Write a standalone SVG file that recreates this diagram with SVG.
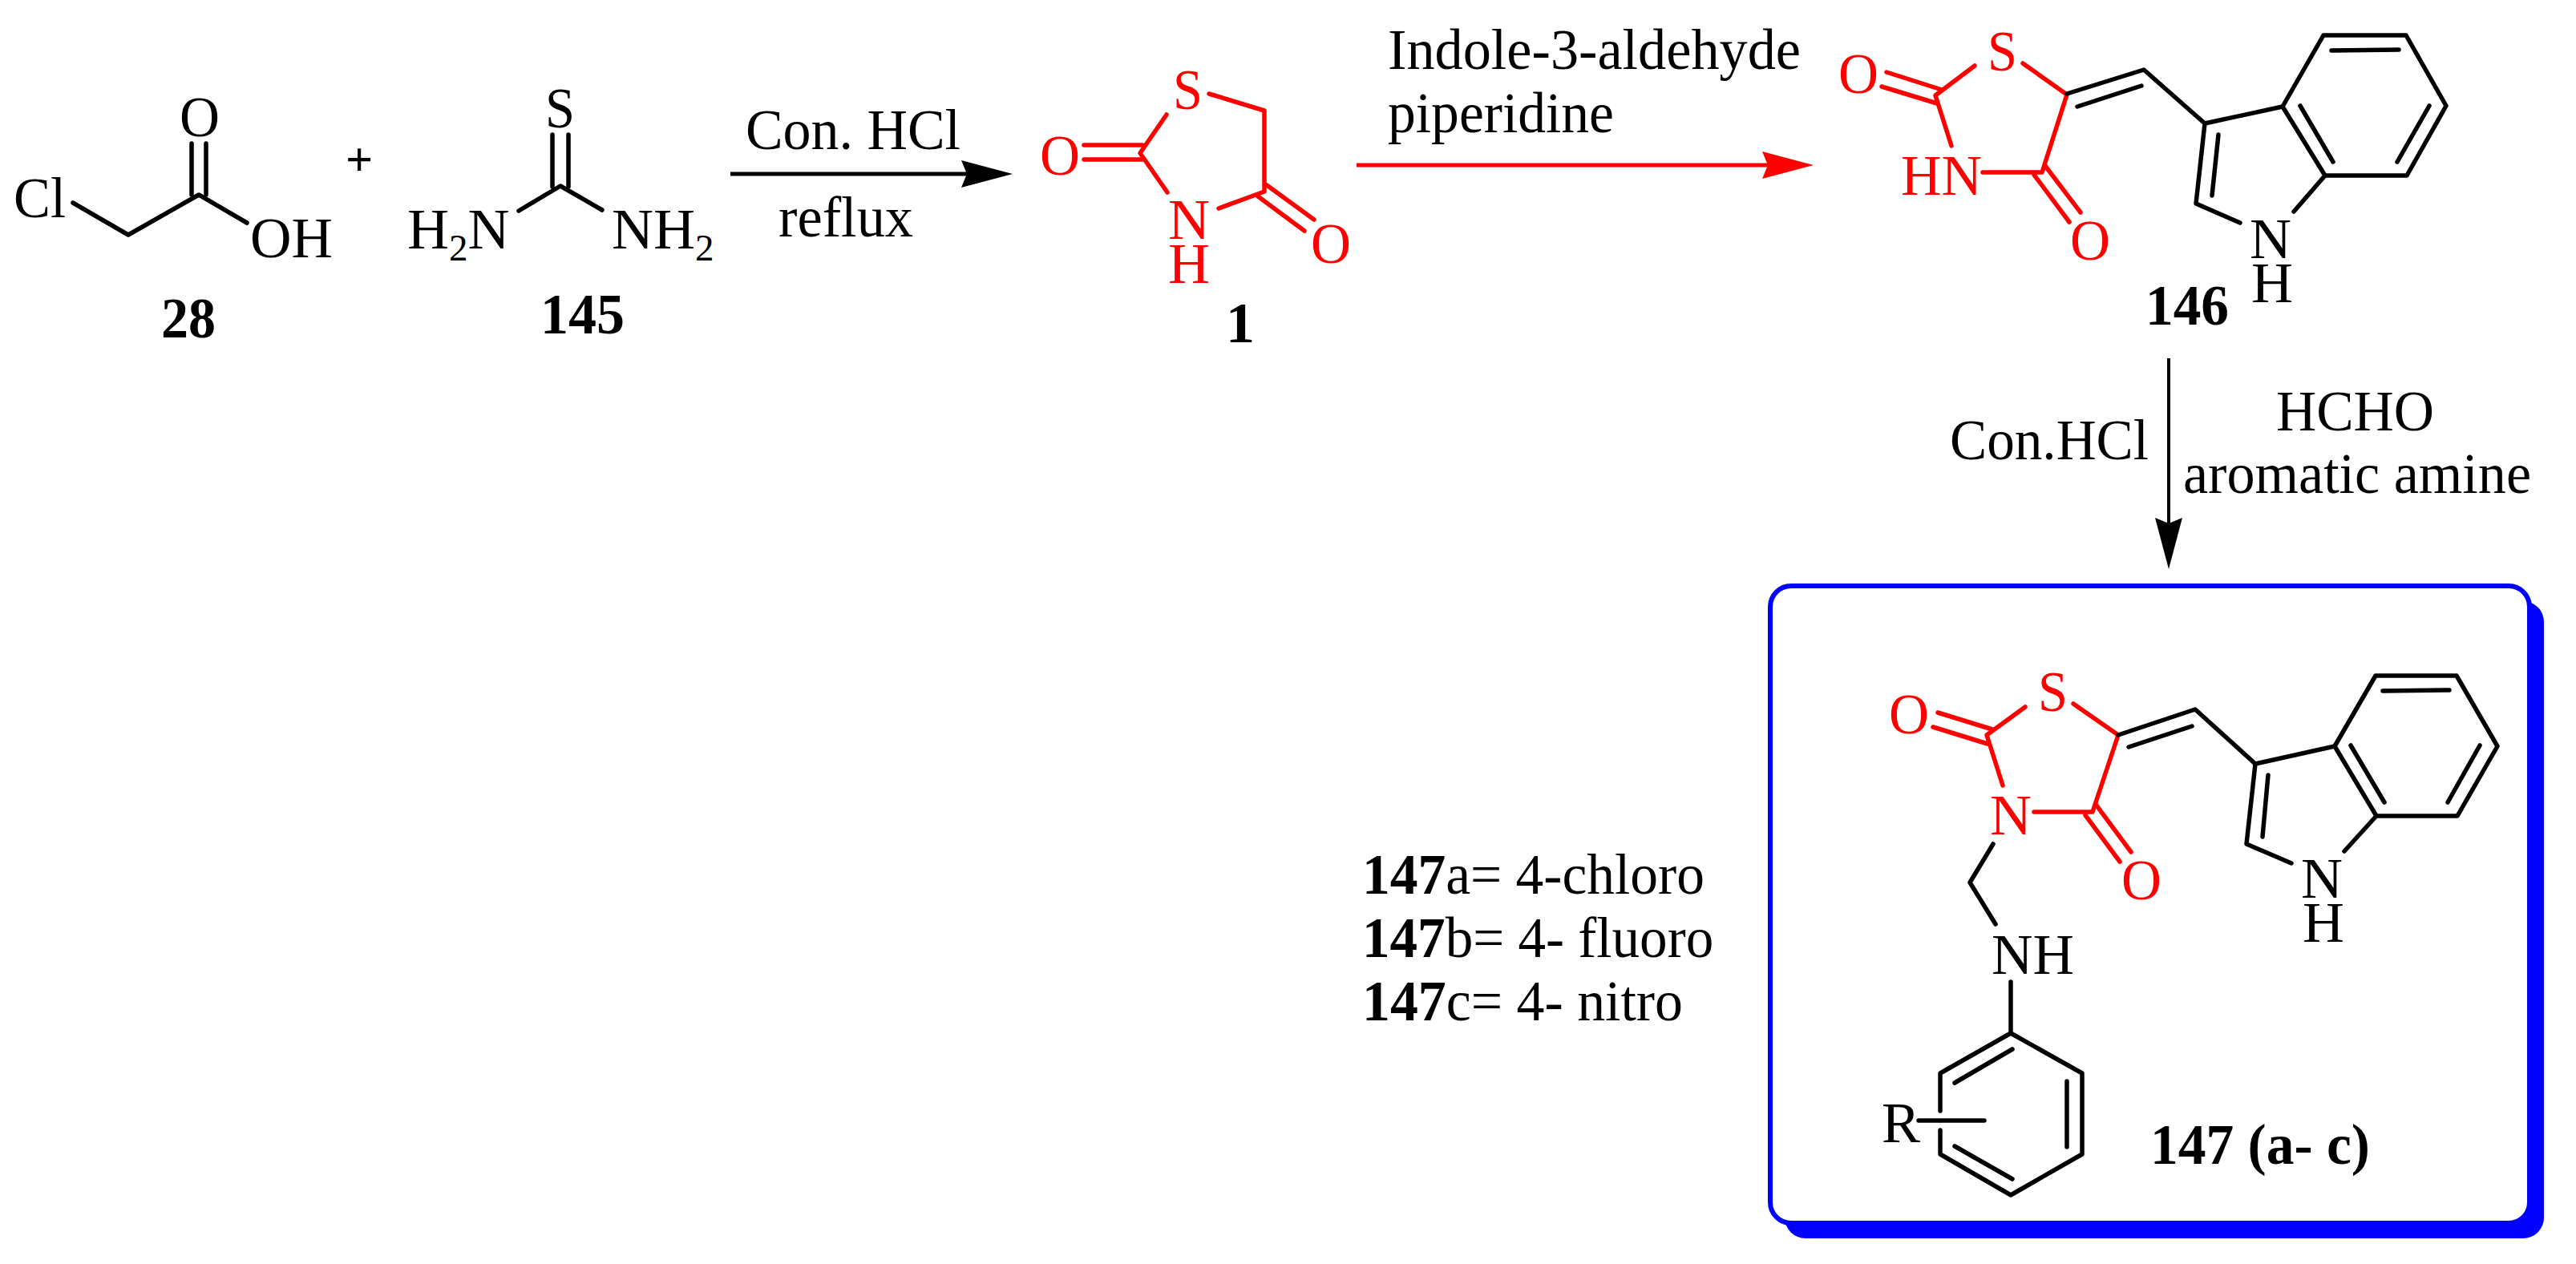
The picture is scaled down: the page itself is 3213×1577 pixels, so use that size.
<svg xmlns="http://www.w3.org/2000/svg" width="3213" height="1577" viewBox="0 0 3213 1577">
<style>
text{font-family:"Liberation Serif","Times New Roman",serif;font-size:72px;fill:#000;font-variant-ligatures:normal}
.r{fill:#f00}
.b{font-weight:bold}
.s{font-size:47px}
path{fill:none;stroke:#000;stroke-width:5.5;stroke-linecap:round;stroke-linejoin:round}
.rl{stroke:#f00}
.ar{stroke-linecap:butt;stroke-width:5}
</style>
<defs>
<marker id="ak" markerUnits="userSpaceOnUse" markerWidth="70" markerHeight="40" refX="39" refY="17" orient="auto"><polygon points="0,0 64,17 0,34 7,17" fill="#000"/></marker>
<marker id="ar" markerUnits="userSpaceOnUse" markerWidth="70" markerHeight="40" refX="39" refY="17" orient="auto"><polygon points="0,0 64,17 0,34 7,17" fill="#f00"/></marker>
</defs>
<rect width="3213" height="1577" fill="#fff"/>
<g id="connectors">
<path class="ar" d="M911 217H1238" marker-end="url(#ak)"/>
<path class="ar rl" d="M1692 206H2237" marker-end="url(#ar)"/>
<path class="ar" style="stroke-width:4" d="M2705 447V685" marker-end="url(#ak)"/>
</g>
<g id="node-28">
<path d="M91 253L160 293L248 243L308 278"/>
<path d="M239 179V243M257 179V243"/>
<text x="17" y="271" textLength="65" lengthAdjust="spacingAndGlyphs">Cl</text>
<text x="224" y="170" textLength="50" lengthAdjust="spacingAndGlyphs">O</text>
<text x="312" y="321" textLength="103" lengthAdjust="spacingAndGlyphs">OH</text>
<text x="201" y="421" class="b" textLength="68" lengthAdjust="spacingAndGlyphs">28</text>
</g>
<text id="plus" x="448" y="219" class="b" style="font-size:60px" text-anchor="middle">+</text>
<g id="node-145">
<path d="M689 168V233M709 168V233"/>
<path d="M647 263L699 232L751 262"/>
<text x="680" y="159" textLength="37" lengthAdjust="spacingAndGlyphs">S</text>
<text x="508" y="310">H<tspan class="s" dy="15">2</tspan><tspan dy="-15">N</tspan></text>
<text x="763" y="310">NH<tspan class="s" dy="15">2</tspan></text>
<text x="674" y="416" class="b" textLength="105" lengthAdjust="spacingAndGlyphs">145</text>
</g>
<g id="label-step1">
<text x="930" y="186" textLength="268" lengthAdjust="spacingAndGlyphs">Con. HCl</text>
<text x="971" y="295" textLength="168" lengthAdjust="spacingAndGlyphs">reflux</text>
</g>
<g id="node-1">
<path class="rl" d="M1455 143L1422 191L1456 240M1508 117L1577 138V239L1520 260"/>
<path class="rl" d="M1352 181H1425M1352 199H1425M1580 231L1639 274M1569 245L1627 288"/>
<text x="1463" y="136" class="r" textLength="37" lengthAdjust="spacingAndGlyphs">S</text>
<text x="1297" y="218" class="r" textLength="50" lengthAdjust="spacingAndGlyphs">O</text>
<text x="1457" y="298" class="r">N</text>
<text x="1457" y="353" class="r">H</text>
<text x="1635" y="328" class="r" textLength="50" lengthAdjust="spacingAndGlyphs">O</text>
<text x="1529" y="427" class="b">1</text>
</g>
<g id="label-step2">
<text x="1731" y="86" textLength="515" lengthAdjust="spacingAndGlyphs">Indole-3-aldehyde</text>
<text x="1731" y="165" textLength="282" lengthAdjust="spacingAndGlyphs">piperidine</text>
</g>
<g id="node-146">
<path class="rl" d="M2463 82L2414 119L2434 182M2473 215H2547L2578 118L2523 79"/>
<path class="rl" d="M2353 90L2422 112M2347 108L2416 129M2551 207L2595 265M2537 218L2581 277"/>
<path d="M2578 117L2674 87L2750 154L2847 133L2900 219L2861 264M2794 278L2739 254L2750 154M2591 133L2671 107M2767 168L2759 244"/>
<path d="M2847 133L2898 44H3001L3051 132L3002 219H2900M2908 63L2992 62M3030 132L2990 202M2869 132L2910 202"/>
<text x="2371" y="243" class="r" textLength="101" lengthAdjust="spacingAndGlyphs">HN</text>
<text x="2293" y="116" class="r" textLength="50" lengthAdjust="spacingAndGlyphs">O</text>
<text x="2479" y="88" class="r" textLength="37" lengthAdjust="spacingAndGlyphs">S</text>
<text x="2582" y="324" class="r" textLength="50" lengthAdjust="spacingAndGlyphs">O</text>
<text x="2806" y="322">N</text>
<text x="2808" y="377">H</text>
<text x="2676" y="405" class="b" textLength="104" lengthAdjust="spacingAndGlyphs">146</text>
</g>
<g id="label-step3">
<text x="2432" y="573" textLength="248" lengthAdjust="spacingAndGlyphs">Con.HCl</text>
<text x="2839" y="537" textLength="197" lengthAdjust="spacingAndGlyphs">HCHO</text>
<text x="2723" y="615" textLength="434" lengthAdjust="spacingAndGlyphs">aromatic amine</text>
</g>
<g id="node-147">
<rect x="2226" y="750" width="947" height="795" rx="26" fill="#00f"/>
<rect x="2208" y="731" width="947" height="795" rx="26" fill="#fff" stroke="#00f" stroke-width="6"/>
<path class="rl" d="M2526 882L2478 917L2498 980M2537 1013H2610L2642 917L2586 878"/>
<path class="rl" d="M2417 889L2485 910M2411 907L2479 928M2615 1005L2658 1063M2601 1017L2644 1075"/>
<path d="M2642 917L2738 885L2813 953L2912 931L2964 1018L2924 1062M2858 1077L2802 1053L2813 953M2655 932L2734 906M2829 967L2822 1044"/>
<path d="M2912 931L2963 843H3064L3115 931L3065 1018H2964M2972 862L3055 861M3093 930L3053 1001M2932 930L2974 1001"/>
<path d="M2486 1053L2457 1101L2489 1153M2508 1225V1289L2597 1339V1440L2508 1491L2420 1440V1410M2420 1386V1339L2508 1289"/>
<path d="M2438 1351L2510 1309M2578 1349V1431M2438 1430L2510 1471M2393 1398H2475"/>
<text x="2482" y="1041" class="r">N</text>
<text x="2356" y="915" class="r" textLength="50" lengthAdjust="spacingAndGlyphs">O</text>
<text x="2542" y="887" class="r" textLength="37" lengthAdjust="spacingAndGlyphs">S</text>
<text x="2646" y="1122" class="r" textLength="50" lengthAdjust="spacingAndGlyphs">O</text>
<text x="2870" y="1120">N</text>
<text x="2872" y="1175">H</text>
<text x="2484" y="1215" textLength="103" lengthAdjust="spacingAndGlyphs">NH</text>
<text x="2347" y="1425">R</text>
<text x="2682" y="1452" class="b" textLength="274" lengthAdjust="spacingAndGlyphs">147 (a- c)</text>
</g>
<g id="legend">
<text transform="translate(1699 1115) scale(.965 1)"><tspan class="b">147</tspan>a= 4-chloro</text>
<text transform="translate(1699 1194) scale(.96 1)"><tspan class="b">147</tspan>b= 4- fluoro</text>
<text transform="translate(1699 1273) scale(.97 1)"><tspan class="b">147</tspan>c= 4- nitro</text>
</g>
</svg>
